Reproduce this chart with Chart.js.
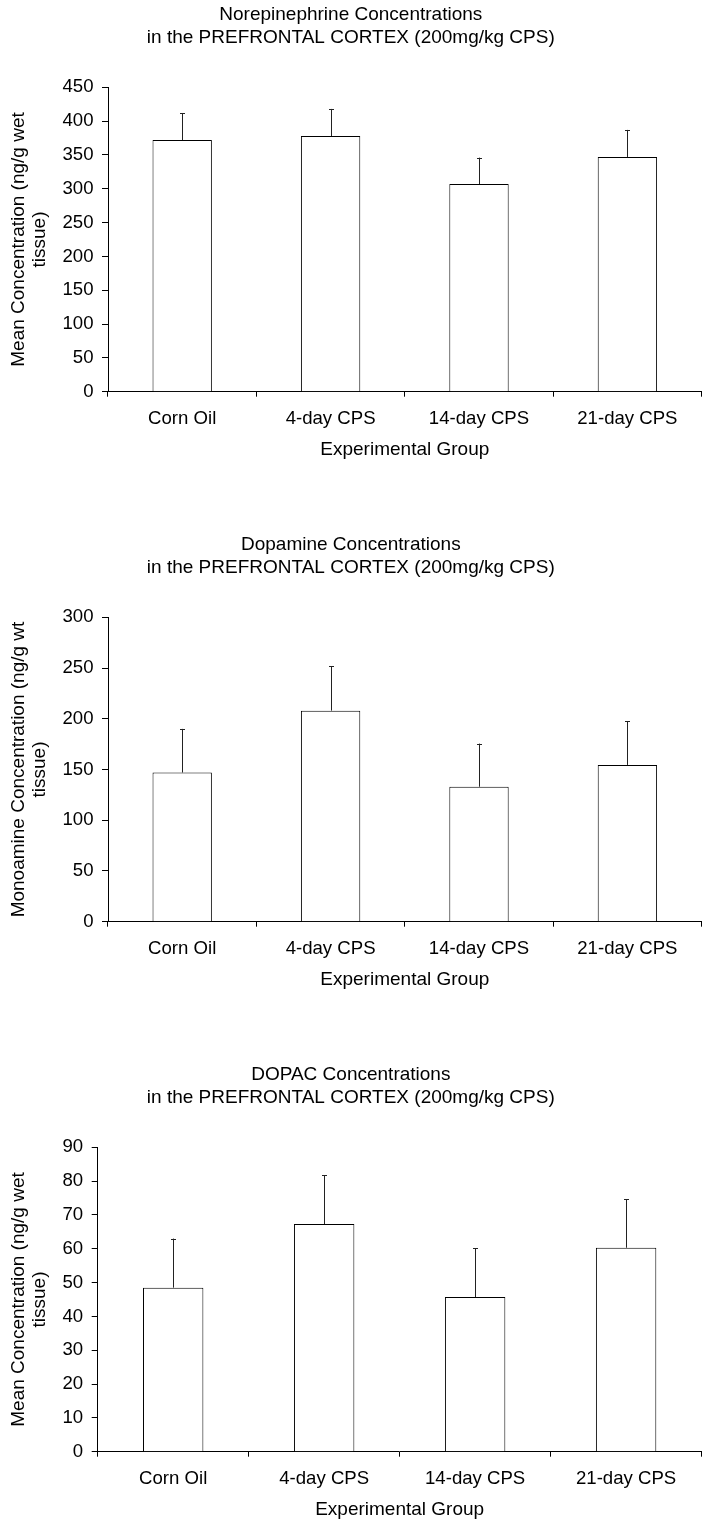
<!DOCTYPE html>
<html>
<head>
<meta charset="utf-8">
<script src="https://cdn.jsdelivr.net/npm/chart.js@4/dist/chart.umd.min.js"></script>
<style>
  body { margin: 0; background: #fff; }
  .bloco { position: absolute; left: 0; width: 703px; height: 461px; }
</style>
</head>
<body>
<div class="bloco" style="top:0px"><canvas id="grafico1" width="703" height="461"></canvas></div>
<div class="bloco" style="top:530px"><canvas id="grafico2" width="703" height="461"></canvas></div>
<div class="bloco" style="top:1060px"><canvas id="grafico3" width="703" height="461"></canvas></div>
<script>
// grupos experimentais (eixo x)
var grupos = ["Corn Oil", "4-day CPS", "14-day CPS", "21-day CPS"];

// medias e erros (so a metade de cima aparece no grafico)
var norepinefrina = [372, 378, 307, 347];
var erroNorepinefrina = [40, 40, 39, 40];

var dopamina = [147, 208, 133, 154.5];
var erroDopamina = [43, 43.5, 42.5, 43];

var dopac = [48.5, 67.3, 45.7, 60.3];
var erroDopac = [14.5, 14.5, 14.4, 14.4];

// escalas do eixo y
var maximos = [450, 300, 90];
var passos = [50, 50, 10];

// textos
var titulos = [
    ["Norepinephrine Concentrations", "in the PREFRONTAL CORTEX (200mg/kg CPS)"],
    ["Dopamine Concentrations", "in the PREFRONTAL CORTEX (200mg/kg CPS)"],
    ["DOPAC Concentrations", "in the PREFRONTAL CORTEX (200mg/kg CPS)"]
];
var titulosY = [
    ["Mean Concentration (ng/g wet", "tissue)"],
    ["Monoamine Concentration (ng/g wt", "tissue)"],
    ["Mean Concentration (ng/g wet", "tissue)"]
];
var tituloX = "Experimental Group";

Chart.defaults.font.family = "Arial, 'Liberation Sans', sans-serif";
Chart.defaults.color = "#000";

// desenha a barra de erro (so para cima) usando a escala y do proprio grafico
var barrasDeErro = {
    id: "barrasDeErro",
    afterDatasetsDraw: function (chart) {
        var ctx = chart.ctx;
        var escalaY = chart.scales.y;
        var ds = chart.data.datasets[0];
        var barras = chart.getDatasetMeta(0).data;
        ctx.save();
        ctx.strokeStyle = "#222";
        ctx.lineWidth = 1;
        for (var i = 0; i < barras.length; i++) {
            var x = Math.round(barras[i].x) + 0.5;
            var topo = escalaY.getPixelForValue(ds.data[i] + ds.erros[i]);
            ctx.beginPath();
            ctx.moveTo(x, barras[i].y);
            ctx.lineTo(x, topo);
            ctx.moveTo(x - 2.5, Math.round(topo) + 0.5);
            ctx.lineTo(x + 2.5, Math.round(topo) + 0.5);
            ctx.stroke();
        }
        ctx.restore();
    }
};

function criarConfig(n, valores, erros, larguraY) {
    return {
        type: "bar",
        data: {
            labels: grupos,
            datasets: [
                {
                    data: valores,
                    erros: erros,
                    backgroundColor: "#fff",
                    borderColor: "#000",
                    borderWidth: 1,
                    barPercentage: 0.4,
                    categoryPercentage: 1
                }
            ]
        },
        options: {
            responsive: false,
            animation: false,
            devicePixelRatio: 1,
            layout: { padding: { left: 0, right: 1.4, top: 0, bottom: 0 } },
            plugins: {
                legend: { display: false },
                tooltip: { enabled: false },
                title: {
                    display: true,
                    text: titulos[n],
                    color: "#000",
                    font: { size: 19, weight: "normal", lineHeight: 1.21 },
                    padding: { top: 3.5, bottom: 37.8 }
                }
            },
            scales: {
                x: {
                    offset: true,
                    grid: { offset: true, drawOnChartArea: false, tickLength: 5, color: "#000" },
                    border: { color: "#000", width: 1 },
                    ticks: { padding: 11.4, font: { size: 18.6 }, maxRotation: 0, autoSkip: false },
                    title: { display: true, text: tituloX, font: { size: 19 }, padding: 0 },
                    afterFit: function (s) { s.height = 69.3; }
                },
                y: {
                    min: 0,
                    max: maximos[n],
                    grid: { drawOnChartArea: false, tickLength: 6, color: "#000" },
                    border: { color: "#000", width: 1 },
                    ticks: { stepSize: passos[n], padding: 8.5, font: { size: 18.6 } },
                    title: {
                        display: true,
                        text: titulosY[n],
                        font: { size: 19, lineHeight: 1.1 },
                        padding: { top: 8, bottom: 0 }
                    },
                    afterFit: function (s) { s.width = larguraY; }
                }
            }
        },
        plugins: [barrasDeErro]
    };
}

var grafico1 = new Chart(document.getElementById("grafico1"), criarConfig(0, norepinefrina, erroNorepinefrina, 108));
var grafico2 = new Chart(document.getElementById("grafico2"), criarConfig(1, dopamina, erroDopamina, 108));
var grafico3 = new Chart(document.getElementById("grafico3"), criarConfig(2, dopac, erroDopac, 97.7));
</script>
</body>
</html>
